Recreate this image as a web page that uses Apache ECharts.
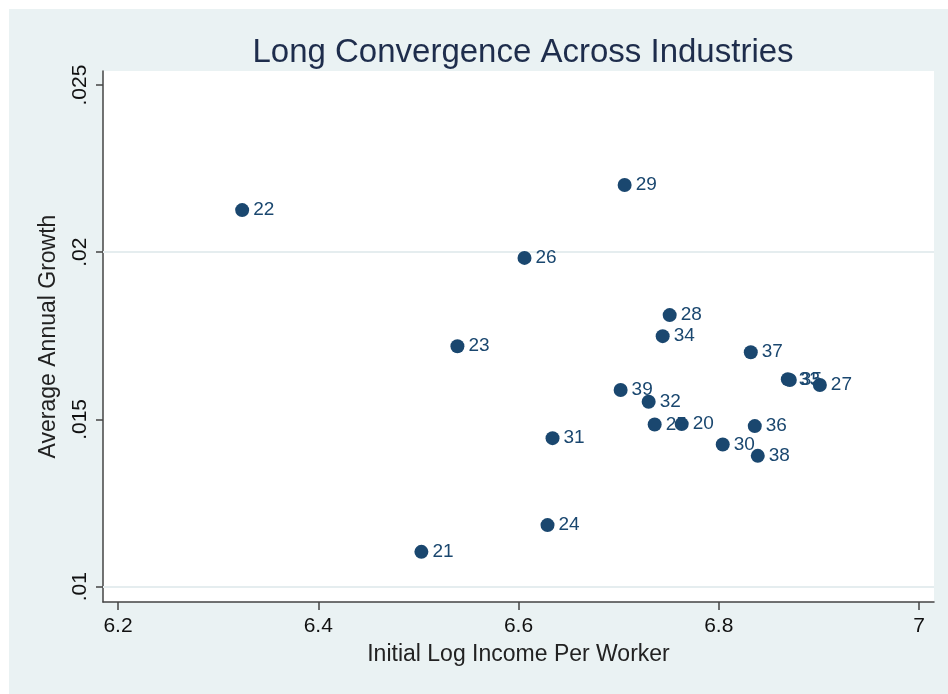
<!DOCTYPE html>
<html><head><meta charset="utf-8">
<script src="https://cdn.jsdelivr.net/npm/echarts@6/dist/echarts.min.js"></script>
<style>html,body{margin:0;padding:0;background:#fff;}#c{width:948px;height:694px;}</style>
</head><body><div id="c"></div>
<script>
const industries = ['22','29','26','28','34','23','37','33','35','27','39','32','25','20','36','30','38','31','24','21'];
const initialLogIncome = [6.324,6.706,6.606,6.751,6.744,6.539,6.832,6.869,6.871,6.901,6.702,6.730,6.736,6.763,6.836,6.804,6.839,6.634,6.629,6.503];
const avgAnnualGrowth = [0.02126,0.02201,0.01983,0.01812,0.01749,0.01719,0.01701,0.01620,0.01618,0.01603,0.01588,0.01553,0.01485,0.01486,0.01480,0.01425,0.01391,0.01444,0.01184,0.01104];
const xTicks = [6.2,6.4,6.6,6.8,7];
const yTicks = [0.01,0.015,0.02,0.025];
const yTickLabels = ['.01','.015','.02','.025'];

const pts = industries.map((n,i)=>({value:[initialLogIncome[i],avgAnnualGrowth[i]],name:n}));
const chart = echarts.init(document.getElementById('c'),null,{renderer:'canvas'});
const navy = '#1a476f';
const font = 'Arial, "Liberation Sans", sans-serif';
chart.setOption({
  backgroundColor:'#ffffff',
  animation:false,
  graphic:[{type:'rect',z:-10,silent:true,shape:{x:9,y:9,width:939,height:685},style:{fill:'#eaf2f3'}}],
  title:{text:'Long Convergence Across Industries',left:518,top:31,textAlign:'center',
    textStyle:{fontFamily:font,fontSize:33,fontWeight:'normal',color:'#1e2d4c'}},
  grid:{left:103,right:14,top:71,bottom:92,show:true,backgroundColor:'#ffffff',borderWidth:0},
  xAxis:{type:'value',min:6.185,max:7.015,
    name:'Initial Log Income Per Worker',nameLocation:'middle',nameGap:41,
    nameTextStyle:{fontFamily:font,fontSize:23,color:'#222'},
    axisLine:{show:true,onZero:false,lineStyle:{color:'#444',width:1.5}},
    axisTick:{show:true,length:8,customValues:xTicks,lineStyle:{color:'#444',width:1.5}},
    axisLabel:{customValues:xTicks,formatter:v=>String(+v.toFixed(1)),fontFamily:font,fontSize:21,color:'#111',margin:14},
    splitLine:{show:false}},
  yAxis:{type:'value',min:0.00954,max:0.02542,
    name:'Average Annual Growth',nameLocation:'middle',nameGap:43,
    nameTextStyle:{fontFamily:font,fontSize:23,color:'#222'},
    axisLine:{show:true,onZero:false,lineStyle:{color:'#444',width:1.5}},
    axisTick:{show:true,length:7,customValues:yTicks,lineStyle:{color:'#444',width:1.5}},
    axisLabel:{customValues:yTicks,rotate:90,fontFamily:font,fontSize:21,color:'#111',margin:12,
      formatter:v=>{const i=yTicks.findIndex(t=>Math.abs(t-v)<1e-9);return i>=0?yTickLabels[i]:'';}},
    splitLine:{show:false}},
  series:[{
    type:'scatter',z:5,data:pts,symbol:'circle',symbolSize:14,
    itemStyle:{color:navy,opacity:1},
    label:{show:true,position:'right',distance:4,formatter:p=>p.name,fontFamily:font,fontSize:19,color:navy},
    markLine:{silent:true,z:1,symbol:'none',label:{show:false},
      lineStyle:{color:'#e5edef',width:2,type:'solid'},
      data:yTicks.map(t=>({yAxis:t}))}
  }]
});
</script></body></html>
